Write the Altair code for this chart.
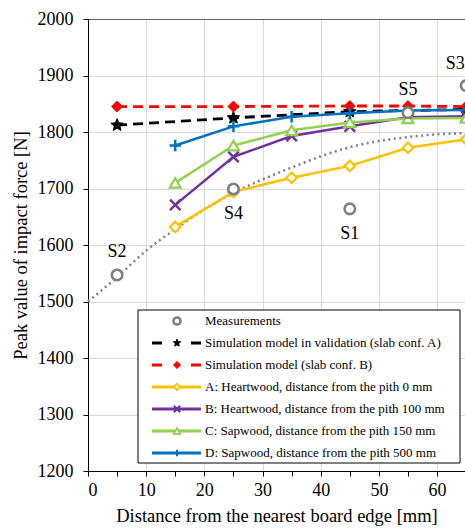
import math
import altair as alt
import pandas as pd

# ---------------- data ----------------
x_meas = [5, 25, 45, 55, 65]
y_meas = [1547, 1699, 1664, 1834, 1882]
lbl_meas = ["S2", "S4", "S1", "S5", "S3"]
side_meas = ["above", "below", "below", "above", "above3"]

x_trend = [0, 5, 10, 15, 20, 25, 30, 35, 40, 45, 50, 55, 60, 65]
y_trend = [1500, 1543, 1590, 1628, 1663, 1692, 1716, 1737, 1757, 1773, 1784, 1791, 1796, 1798]

x_simA = [5, 25, 45, 65]
y_simA = [1812, 1825, 1836, 1840]

x_simB = [5, 25, 45, 55, 65]
y_simB = [1845, 1845, 1846, 1846, 1845]

x_wood = [15, 25, 35, 45, 55, 65]
y_A = [1632, 1694, 1719, 1740, 1772, 1787]
y_B = [1671, 1756, 1793, 1810, 1826, 1828]
y_C = [1710, 1776, 1803, 1817, 1824, 1825]
y_D = [1776, 1810, 1827, 1833, 1838, 1839]

legend_labels = [
    "Measurements",
    "Simulation model in validation (slab conf. A)",
    "Simulation model (slab conf. B)",
    "A: Heartwood, distance from the pith 0 mm",
    "B: Heartwood, distance from the pith 100 mm",
    "C: Sapwood, distance from the pith 150 mm",
    "D: Sapwood, distance from the pith 500 mm",
]

x_ticks = list(range(0, 65, 5))
y_ticks = list(range(1200, 2001, 100))

# ---------------- style ----------------
FONT = "Liberation Serif"
C_GRAY = "#808080"
C_BLACK = "#000000"
C_RED = "#FF0000"
C_YEL = "#FFC000"
C_PUR = "#7030A0"
C_GRN = "#92D050"
C_BLU = "#0070C0"

pts = []
for i in range(10):
    r = 1.0 if i % 2 == 0 else 0.45
    a = -math.pi / 2 + i * math.pi / 5
    pts.append(f"{r*math.cos(a):.3f},{r*math.sin(a):.3f}")
STAR = "M" + "L".join(pts) + "Z"
XSHAPE = "M-1,-1L1,1M1,-1L-1,1"
PLUS = "M-1,0L1,0M0,-1L0,1"

xs = alt.Scale(domain=[0, 64.8], nice=False, zero=False)
ys = alt.Scale(domain=[1200, 2000], nice=False, zero=False)

xaxis = alt.Axis(
    values=x_ticks,
    labelExpr="datum.value % 10 === 0 ? datum.label : ''",
    gridColor={"condition": {"test": "datum.value % 10 === 0", "value": "#d9d9d9"}, "value": "transparent"},
    grid=True,
    tickSize=5,
    tickColor="black",
    domainColor="black",
    labelFont=FONT,
    labelFontSize=18,
    labelColor="black",
    labelPadding=5,
    titleFont=FONT,
    titleFontSize=18.5,
    titleFontWeight="normal",
    titleColor="black",
    titlePadding=7,
)
yaxis = alt.Axis(
    values=y_ticks,
    format="d",
    gridColor={"condition": {"test": "datum.value === 2000", "value": "#606060"}, "value": "#d9d9d9"},
    grid=True,
    tickSize=5,
    tickColor="black",
    domainColor="black",
    labelFont=FONT,
    labelFontSize=18,
    labelColor="black",
    labelPadding=10,
    titleFont=FONT,
    titleFontSize=18.5,
    titleFontWeight="normal",
    titleColor="black",
    titlePadding=7,
)


def X():
    return alt.X("x:Q", scale=xs, axis=xaxis, title="Distance from the nearest board edge [mm]")


def Y():
    return alt.Y("y:Q", scale=ys, axis=yaxis, title="Peak value of impact force [N]")


def df(xv, yv):
    return pd.DataFrame({"x": xv, "y": yv})


layers = []

# trend line (dotted)
layers.append(
    alt.Chart(df(x_trend, y_trend)).mark_line(color=C_GRAY, strokeWidth=2.5, strokeDash=[2, 3.5], interpolate="monotone")
    .encode(x=X(), y=Y())
)


def series(xv, yv, color, shape, dash=None, fill="white", size=110, sw=2.2, lw=2.5):
    d = df(xv, yv)
    lk = dict(color=color, strokeWidth=lw)
    if dash:
        lk["strokeDash"] = dash
    line = alt.Chart(d).mark_line(**lk).encode(x=X(), y=Y())
    pt = alt.Chart(d).mark_point(shape=shape, size=size, fill=fill, stroke=color,
                                 strokeWidth=sw, opacity=1, fillOpacity=1).encode(x=X(), y=Y())
    return [line, pt]


layers += series(x_simA, y_simA, C_BLACK, STAR, dash=[10, 6], fill=C_BLACK, size=170, sw=1, lw=2.8)
layers += series(x_simB, y_simB, C_RED, "diamond", dash=[10, 6], fill=C_RED, size=120, sw=1, lw=2.8)
layers += series(x_wood, y_A, C_YEL, "diamond", fill="white", size=110)
layers += series(x_wood, y_B, C_PUR, XSHAPE, fill="transparent", size=110, sw=2.5)
layers += series(x_wood, y_C, C_GRN, "triangle-up", fill="white", size=120)
layers += series(x_wood, y_D, C_BLU, PLUS, fill="transparent", size=130, sw=2.5)

# measurements
mdf = pd.DataFrame({"x": x_meas, "y": y_meas, "lbl": lbl_meas, "side": side_meas})
layers.append(
    alt.Chart(mdf).mark_point(shape="circle", size=110, fill="white", stroke=C_GRAY, strokeWidth=2.6,
                              opacity=1, fillOpacity=1).encode(x=X(), y=Y())
)
for side, dy, dx in [("above", -23, 0), ("below", 25, 0), ("above3", -22, -11)]:
    layers.append(
        alt.Chart(mdf).transform_filter(alt.datum.side == side)
        .mark_text(font=FONT, fontSize=18, color="black", dy=dy, dx=dx, baseline="middle", align="center")
        .encode(x=X(), y=Y(), text="lbl:N")
    )

# legend (pixel positions relative to the plot area)
one = pd.DataFrame({"a": [1]})
LX0, LX1, LY0, LY1 = 50, 372, 291, 444
layers.append(
    alt.Chart(one).mark_rect(fill="white", stroke="black", strokeWidth=1)
    .encode(x=alt.value(LX0), x2=alt.value(LX1), y=alt.value(LY0), y2=alt.value(LY1))
)
rows_y = [302, 324, 346, 368, 390, 412, 434]
sym_x0, sym_xm, sym_x1, txt_x = 64, 89, 113, 117
leg_specs = [
    (C_GRAY, "circle", None, "white", 50, 2.5, False),
    (C_BLACK, STAR, [10, 29], C_BLACK, 60, 1, True),
    (C_RED, "diamond", [10, 29], C_RED, 50, 1, True),
    (C_YEL, "diamond", None, "white", 40, 1.8, True),
    (C_PUR, XSHAPE, None, "transparent", 40, 2.2, True),
    (C_GRN, "triangle-up", None, "white", 45, 1.8, True),
    (C_BLU, PLUS, None, "transparent", 40, 2.0, True),
]
for (col, shp, dash, fill, sz, sw, has_line), yy, lab in zip(leg_specs, rows_y, legend_labels):
    if has_line:
        rk = dict(color=col, strokeWidth=2.8)
        if dash:
            rk["strokeDash"] = dash
        layers.append(
            alt.Chart(one).mark_rule(**rk)
            .encode(x=alt.value(sym_x0), x2=alt.value(sym_x1), y=alt.value(yy))
        )
    layers.append(
        alt.Chart(one).mark_point(shape=shp, size=sz, fill=fill, stroke=col, strokeWidth=sw,
                                  opacity=1, fillOpacity=1)
        .encode(x=alt.value(sym_xm), y=alt.value(yy))
    )
    layers.append(
        alt.Chart(one).mark_text(font=FONT, fontSize=13, color="black", align="left", baseline="middle")
        .encode(x=alt.value(txt_x), y=alt.value(yy), text=alt.value(lab))
    )

chart = (
    alt.layer(*layers)
    .properties(width=377, height=452, autosize=alt.AutoSizeParams(type="none"),
                padding={"left": 88, "top": 19, "right": 0, "bottom": 57})
    .configure_view(stroke=None)
    .configure(background="white")
)

chart.save("out.html", embed_options={"renderer": "svg", "actions": False})
